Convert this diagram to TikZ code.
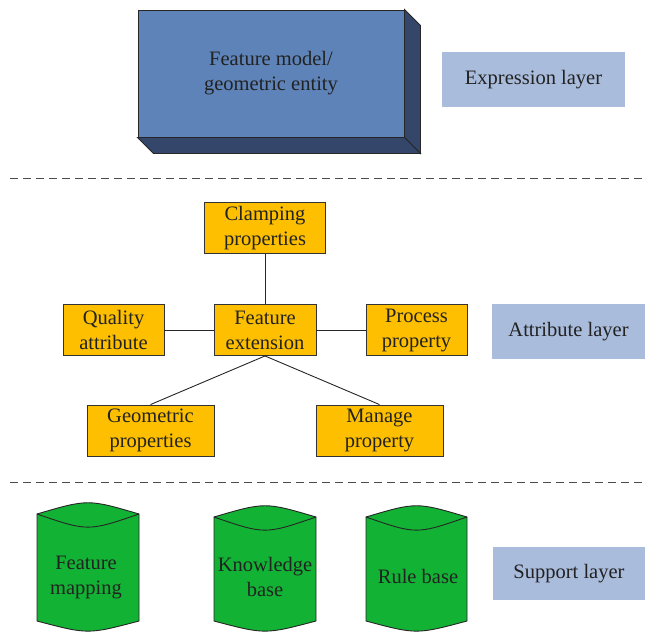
\documentclass[tikz,border=0pt]{standalone}
\usepackage{fontspec}
\setmainfont{Liberation Serif}
\usetikzlibrary{calc}
\definecolor{fblue}{HTML}{5E83B8}
\definecolor{dblue}{HTML}{34466A}
\definecolor{lblue}{HTML}{A9BCDC}
\definecolor{fyellow}{HTML}{FDBF00}
\definecolor{fgreen}{HTML}{12B234}
\definecolor{txt}{HTML}{222222}
\tikzset{
  base/.style={font=\fontsize{20.5}{25}\selectfont, text=txt, align=center, inner sep=0pt},
  ybox/.style={base, draw=black!80, fill=fyellow, line width=0.9pt, minimum height=51pt},
  layerbox/.style={base, fill=lblue, minimum height=55pt},
  link/.style={draw=black!85, line width=0.9pt},
  sep/.style={draw=black!70, line width=0.9pt, dash pattern=on 8pt off 5pt},
  cyl/.style={draw=black!85, fill=fgreen, line width=0.9pt},
}
\begin{document}
\begin{tikzpicture}[x=1pt, y=-1pt]
\useasboundingbox (0,0) rectangle (645,633);
% expression layer
\node[base, draw=black!85, fill=fblue, line width=0.9pt, minimum width=266pt, minimum height=127pt] (fm) at (271,73.5) {Feature model/\\geometric entity};
\fill[dblue, draw=black!85, line width=0.9pt] (fm.north east) -- ++(16,16) -- ($(fm.south east)+(16,16)$) -- (fm.south east) -- cycle;
\fill[dblue, draw=black!85, line width=0.9pt] (fm.south west) -- (fm.south east) -- ++(16,16) -- ($(fm.south west)+(16,16)$) -- cycle;
\node[layerbox, minimum width=183pt] (el) at (533.5,79.5) {Expression layer};
\coordinate (s1a) at (10,178);
\coordinate (s1b) at (645,178);
\draw[sep] (s1a) -- (s1b);
% attribute layer
\node[ybox, minimum width=121pt] (cp) at (265,228) {Clamping\\properties};
\node[ybox, minimum width=102pt] (fe) at (265,330) {Feature\\extension};
\node[ybox, minimum width=101pt] (qa) at (113.5,330) {Quality\\attribute};
\node[ybox, minimum width=101pt] (pp) at (416.5,330) {Process\\property};
\node[ybox, minimum width=127pt] (gp) at (150.5,430.5) {Geometric\\properties};
\node[ybox, minimum width=127pt] (mp) at (379.5,430.5) {Manage\\property};
\draw[link] (cp) -- (fe);
\draw[link] (qa) -- (fe);
\draw[link] (fe) -- (pp);
\draw[link] (fe.south) -- (gp.north);
\draw[link] (fe.south) -- (mp.north);
\node[layerbox, minimum width=153pt] (al) at (568.5,331.5) {Attribute layer};
\coordinate (s2a) at (10,482);
\coordinate (s2b) at (645,482);
\draw[sep] (s2a) -- (s2b);
% support layer
\newcommand{\cylshape}[4]{% left, right, rim y, bottom y
  \pgfmathsetmacro{\mm}{(#1+#2)/2}
  \path[cyl] (#1,#3) -- (#1,#4) .. controls (\mm,#4+13.5) .. (#2,#4) -- (#2,#3) .. controls (\mm,#3-15) .. (#1,#3) -- cycle;
  \draw[draw=black!85, line width=0.9pt] (#1,#3) .. controls (\mm,#3+17.5) .. (#2,#3);
}
\cylshape{37}{139}{514}{621}
\cylshape{214}{316}{517}{621}
\cylshape{366}{467}{517}{621}
\node[base] (fmap) at (86,577) {Feature\\mapping};
\node[base] (kb) at (265,577) {Knowledge\\base};
\node[base] (rb) at (418,576) {Rule base};
\node[layerbox, minimum width=152pt, minimum height=53pt] (sl) at (569,573.5) {Support layer};
\end{tikzpicture}
\end{document}
